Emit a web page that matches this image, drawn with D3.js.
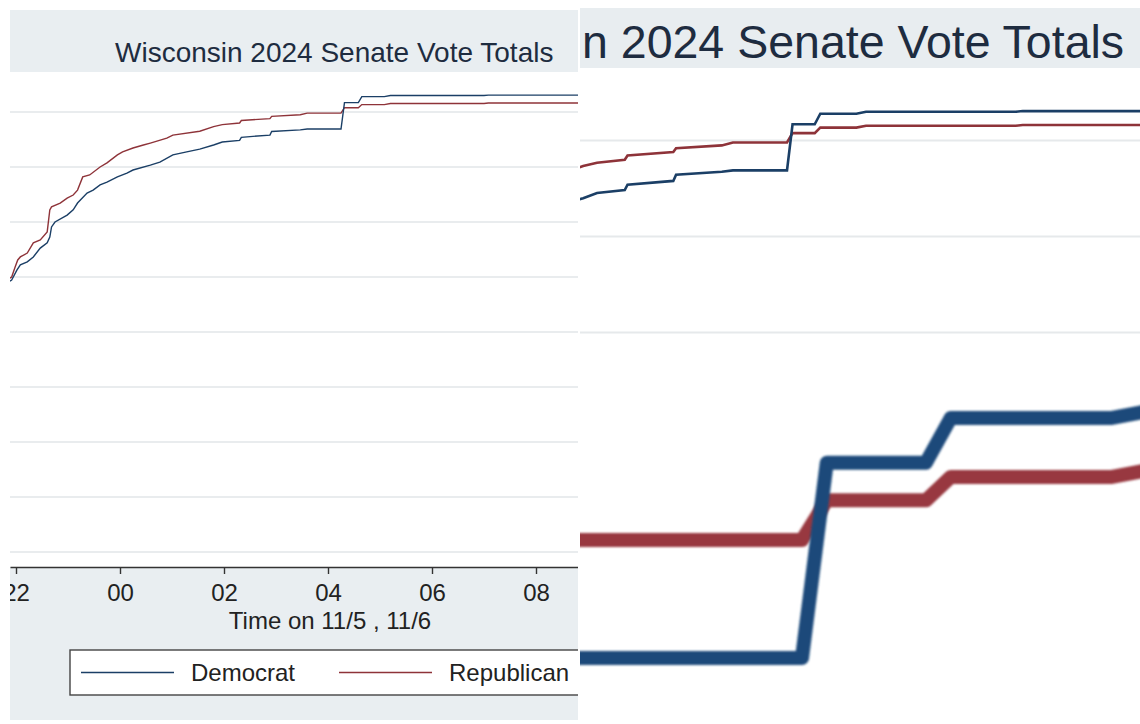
<!DOCTYPE html>
<html><head><meta charset="utf-8">
<script src="https://cdn.jsdelivr.net/npm/d3@7"></script>
<style>html,body{margin:0;padding:0;background:#fff;} svg{display:block;}</style>
</head><body>
<svg id="chart" width="1140" height="724"></svg>
<script>
// ---------------- DATA ----------------
const titleText = "Wisconsin 2024 Senate Vote Totals";
const xAxisTitle = "Time on 11/5 , 11/6";
const seriesNames = ["Democrat", "Republican"];
const xTickTimes = ["11/5 22:00", "11/6 00:00", "11/6 02:00", "11/6 04:00", "11/6 06:00", "11/6 08:00"];
const yGridValues = [0, 200000, 400000, 600000, 800000, 1000000, 1200000, 1400000, 1600000];

const demTimes = ["11/5 21:53","11/5 21:55","11/5 22:01","11/5 22:05","11/5 22:13","11/5 22:20","11/5 22:28","11/5 22:36","11/5 22:39","11/5 22:41","11/5 22:45","11/5 22:59","11/5 23:06","11/5 23:11","11/5 23:22","11/5 23:29","11/5 23:37","11/5 23:45","11/5 23:57","11/6 00:08","11/6 00:15","11/6 00:35","11/6 00:46","11/6 01:01","11/6 01:17","11/6 01:32","11/6 01:48","11/6 01:58","11/6 02:18","11/6 02:20","11/6 02:53","11/6 02:55","11/6 03:28","11/6 03:36","11/6 04:15","11/6 04:19","11/6 04:35","11/6 04:39","11/6 05:05","11/6 05:12","11/6 07:00","11/6 07:05","11/6 10:00"];
const demVotes = [985000,989000,1025000,1044000,1055000,1073000,1105000,1124000,1145000,1182000,1200000,1225000,1244000,1269000,1305000,1316000,1335000,1345000,1364000,1378000,1389000,1407000,1418000,1444000,1455000,1465000,1480000,1491000,1497000,1508000,1516000,1529000,1535000,1538000,1538000,1634000,1634000,1656000,1656000,1660000,1660000,1661500,1661500];

const repTimes = ["11/5 21:53","11/5 21:55","11/5 21:59","11/5 22:02","11/5 22:05","11/5 22:13","11/5 22:20","11/5 22:28","11/5 22:36","11/5 22:39","11/5 22:41","11/5 22:51","11/5 22:59","11/5 23:06","11/5 23:11","11/5 23:17","11/5 23:25","11/5 23:37","11/5 23:45","11/5 23:57","11/6 00:03","11/6 00:15","11/6 00:27","11/6 00:35","11/6 00:54","11/6 01:01","11/6 01:32","11/6 01:48","11/6 01:58","11/6 02:18","11/6 02:20","11/6 02:53","11/6 02:55","11/6 03:28","11/6 03:36","11/6 04:15","11/6 04:19","11/6 04:35","11/6 04:39","11/6 05:05","11/6 05:12","11/6 07:00","11/6 07:05","11/6 10:00"];
const repVotes = [996000,1000000,1036000,1062000,1073000,1087000,1124000,1135000,1164000,1244000,1255000,1269000,1287000,1298000,1316000,1364000,1371000,1400000,1415000,1444000,1455000,1469000,1480000,1487000,1505000,1516000,1530000,1547000,1554000,1560000,1569000,1576000,1584000,1590000,1596000,1596000,1615500,1615500,1627000,1627000,1631000,1631000,1632500,1632500];

// ---------------- HELPERS ----------------
const parse = d3.timeParse("%Y/%m/%d %H:%M");
const T = s => { const p = s.split(" "); return parse("2024/" + p[0] + " " + p[1]); };
const dem = demTimes.map((s, i) => ({ t: T(s), v: demVotes[i] }));
const rep = repTimes.map((s, i) => ({ t: T(s), v: repVotes[i] }));
const DEM_COLOR = "#1b3f66", REP_COLOR = "#8e3339";
const FONT = "'Liberation Sans', Arial, Helvetica, sans-serif";

const svg = d3.select("#chart");
const defs = svg.append("defs");
function clip(id, x, y, w, h) {
  defs.append("clipPath").attr("id", id).append("rect").attr("x", x).attr("y", y).attr("width", w).attr("height", h);
  return svg.append("g").attr("clip-path", `url(#${id})`);
}
defs.append("filter").attr("id", "blur").attr("x", "-5%").attr("y", "-20%").attr("width", "110%").attr("height", "140%")
  .append("feGaussianBlur").attr("stdDeviation", 1.2);
defs.append("filter").attr("id", "blur2").attr("x", "-5%").attr("y", "-100%").attr("width", "110%").attr("height", "300%")
  .append("feGaussianBlur").attr("stdDeviation", 2.5);

// ---------------- LEFT PANEL ----------------
const L = clip("clipL", 10, 0, 568, 724);
const xL = d3.scaleTime().domain([T("11/5 22:00"), T("11/6 08:00")]).range([16, 536]);
const yL = d3.scaleLinear().domain([0, 1600000]).range([552, 112]);

L.append("rect").attr("x", 10).attr("y", 10).attr("width", 600).attr("height", 710).attr("fill", "#e9eef1");
L.append("rect").attr("x", 10).attr("y", 72).attr("width", 600).attr("height", 495).attr("fill", "#ffffff");
L.append("text").attr("x", 115).attr("y", 62).attr("font-family", FONT).attr("font-size", 28)
  .attr("fill", "#1e2c40").text(titleText);

L.selectAll("line.gl").data(yGridValues).join("line").attr("class", "gl")
  .attr("x1", 10).attr("x2", 600).attr("y1", d => yL(d)).attr("y2", d => yL(d))
  .attr("stroke", "#e2e6e9").attr("stroke-width", 1.4);

const lineL = d3.line().x(d => xL(d.t)).y(d => yL(d.v));
L.append("path").datum(rep).attr("d", lineL).attr("fill", "none").attr("stroke", REP_COLOR).attr("stroke-width", 1.4);
L.append("path").datum(dem).attr("d", lineL).attr("fill", "none").attr("stroke", DEM_COLOR).attr("stroke-width", 1.4);

const xAxisScale = xL.copy().domain([xL.invert(10), xL.invert(600)]).range([10, 600]);
const ax = L.append("g").attr("transform", "translate(0,567)")
  .call(d3.axisBottom(xAxisScale).tickValues(xTickTimes.map(T)).tickFormat(d3.timeFormat("%H")).tickSize(7).tickSizeOuter(0).tickPadding(10));
ax.select(".domain").attr("stroke", "#333").attr("stroke-width", 1.6);
ax.selectAll(".tick line").attr("stroke", "#333").attr("stroke-width", 1.4);
ax.selectAll(".tick text").attr("font-family", FONT).attr("font-size", 24).attr("fill", "#222");

L.append("text").attr("x", 330).attr("y", 629).attr("text-anchor", "middle").attr("font-family", FONT)
  .attr("font-size", 24).attr("fill", "#222").text(xAxisTitle);

const leg = L.append("g");
leg.append("rect").attr("x", 70).attr("y", 650).attr("width", 520).attr("height", 45)
  .attr("fill", "#fff").attr("stroke", "#444").attr("stroke-width", 1.4);
const legItems = [{ name: seriesNames[0], color: DEM_COLOR, x: 81 }, { name: seriesNames[1], color: REP_COLOR, x: 339 }];
legItems.forEach(it => {
  leg.append("line").attr("x1", it.x).attr("x2", it.x + 93).attr("y1", 672.5).attr("y2", 672.5)
    .attr("stroke", it.color).attr("stroke-width", 1.4);
  leg.append("text").attr("x", it.x + 110).attr("y", 681).attr("font-family", FONT).attr("font-size", 24)
    .attr("fill", "#222").text(it.name);
});

// ---------------- RIGHT TOP PANEL (zoom) ----------------
const R = clip("clipR", 580, 0, 560, 380);
const xR = d3.scaleTime().domain([T("11/6 02:15"), T("11/6 06:15")]).range([620.6, 953.4]);
const yR = d3.scaleLinear().domain([1200000, 1600000]).range([332.6, 140.6]);
R.append("rect").attr("x", 580).attr("y", 8).attr("width", 560).attr("height", 60).attr("fill", "#e8edf0");
// visible (cropped) part of the title in this magnified view
R.append("text").attr("x", 582).attr("y", 58).attr("font-family", FONT).attr("font-size", 46.5)
  .attr("fill", "#1e2c40").text(titleText.slice(8));

R.selectAll("line.gl").data(yGridValues.filter(v => v >= 1200000)).join("line").attr("class", "gl")
  .attr("x1", 580).attr("x2", 1140).attr("y1", d => yR(d)).attr("y2", d => yR(d))
  .attr("stroke", "#e6e9eb").attr("stroke-width", 2);
const lineR = d3.line().x(d => xR(d.t)).y(d => yR(d.v));
R.append("path").datum(rep).attr("d", lineR).attr("fill", "none").attr("stroke", REP_COLOR).attr("stroke-width", 2.6);
R.append("path").datum(dem).attr("d", lineR).attr("fill", "none").attr("stroke", DEM_COLOR).attr("stroke-width", 2.6);

// ---------------- RIGHT BOTTOM PANEL (deep zoom) ----------------
const B = clip("clipB", 580, 380, 560, 344);
const xB = d3.scaleTime().domain([T("11/6 04:15"), T("11/6 05:15")]).range([802, 1174]);
const yB = d3.scaleLinear().domain([1538000, 1596000]).range([658, 540]);
B.selectAll("line.gl").data(yGridValues.filter(v => v === 1600000)).join("line").attr("class", "gl")
  .attr("x1", 580).attr("x2", 1140).attr("y1", d => yB(d)).attr("y2", d => yB(d))
  .attr("stroke", "#e2e6ea").attr("stroke-width", 9).attr("filter", "url(#blur2)");
const lineB = d3.line().x(d => xB(d.t)).y(d => yB(d.v));
B.append("path").datum(rep).attr("d", lineB).attr("fill", "none").attr("stroke", "#983840").attr("stroke-width", 14)
  .attr("stroke-linejoin", "round").attr("filter", "url(#blur)");
B.append("path").datum(dem).attr("d", lineB).attr("fill", "none").attr("stroke", "#1d4a7a").attr("stroke-width", 14)
  .attr("stroke-linejoin", "round").attr("filter", "url(#blur)");
</script>
</body></html>
